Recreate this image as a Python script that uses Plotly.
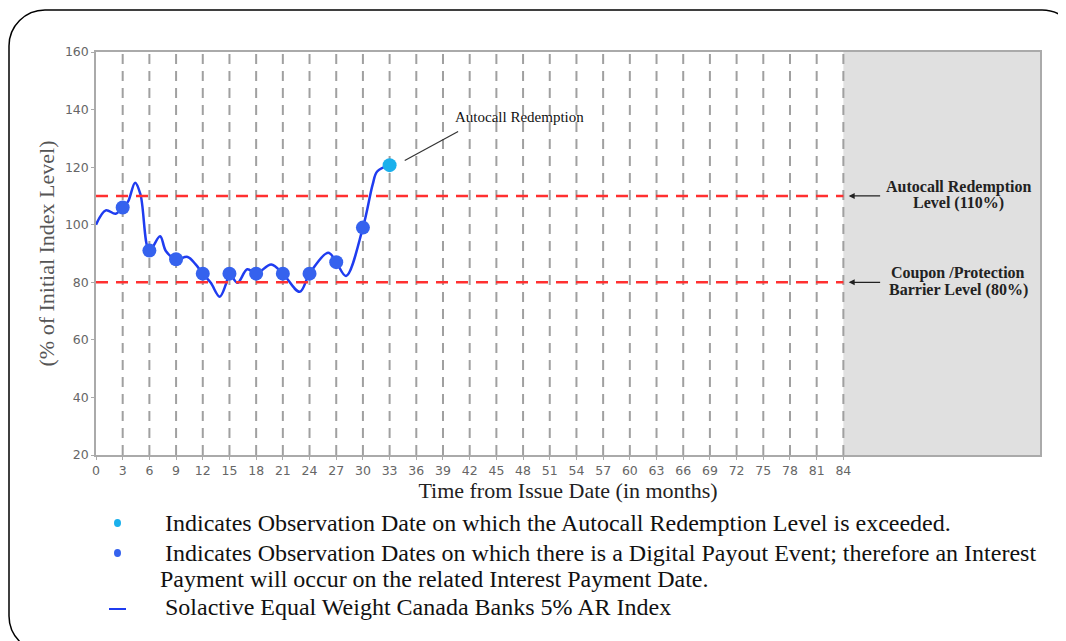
import plotly.graph_objects as go

# ---------------- data ----------------
index_months = [0, 1.1, 2.2, 3, 3.6, 4.4, 5.0, 6, 7.2, 7.85, 9, 10.3, 11.2, 12, 12.9, 13.9,
                14.6, 15, 15.9, 17, 18, 19.7, 21, 22.9, 24, 26.1, 27, 28.1, 30, 31.1, 31.6, 33]
index_level = [100, 105, 103.8, 106, 108, 114.6, 110.5, 91, 96, 90.9, 88, 88.8, 86.2, 83, 79.8, 75,
               79.3, 83, 79.8, 84.5, 83, 86.2, 83, 76.7, 83, 90.3, 87, 82.2, 99, 114, 118.5, 120.7]

payout_months = [3, 6, 9, 12, 15, 18, 21, 24, 27, 30]
payout_levels = [106, 91, 88, 83, 83, 83, 83, 83, 87, 99]

autocall_month = [33]
autocall_level = [120.7]

x_ticks = list(range(0, 85, 3))
y_ticks = [20, 40, 60, 80, 100, 120, 140, 160]
autocall_barrier = 110
coupon_barrier = 80
term_months = 84

legend_lines = [
    "Indicates Observation Date on which the Autocall Redemption Level is exceeded.",
    "Indicates Observation Dates on which there is a Digital Payout Event; therefore an Interest",
    "Payment will occur on the related Interest Payment Date.",
    "Solactive Equal Weight Canada Banks 5% AR Index",
]

# ---------------- layout geometry ----------------
# the page body has an 8px margin, so the figure is drawn at (8, 8) on screen
W, H = 1066, 641
L, T = 88, 44
PW, PH = 944, 403
R = W - L - PW
B = H - T - PH
XMAX = 106.1


def px(sx):  # screen x -> paper
    return (sx - 8 - L) / PW


def py(sy):  # screen y -> paper
    return (H - B - (sy - 8)) / PH


fig = go.Figure()

fig.add_trace(go.Scatter(
    x=index_months, y=index_level, mode="lines",
    line=dict(color="#1f3cf0", width=2.5, shape="spline", smoothing=1.0),
    hoverinfo="skip", showlegend=False))

fig.add_trace(go.Scatter(
    x=payout_months, y=payout_levels, mode="markers",
    marker=dict(color="#3562ee", size=14, line=dict(width=0)),
    showlegend=False))

fig.add_trace(go.Scatter(
    x=autocall_month, y=autocall_level, mode="markers",
    marker=dict(color="#1ab0ec", size=14, line=dict(width=0)),
    showlegend=False))

shapes = []
# grey "after term" region
shapes.append(dict(type="rect", xref="x", yref="paper", x0=term_months, x1=XMAX, y0=0, y1=1,
                   fillcolor="#e0e0e0", line=dict(width=0), layer="below"))
# vertical dashed observation lines
for m in x_ticks[1:]:
    shapes.append(dict(type="line", xref="x", yref="y", x0=m, x1=m, y0=20, y1=160,
                       line=dict(color="#a0a0a0", width=2, dash="10px,7px"), layer="below"))
# barrier lines
for lvl in (autocall_barrier, coupon_barrier):
    shapes.append(dict(type="line", xref="x", yref="y", x0=0, x1=term_months, y0=lvl, y1=lvl,
                       line=dict(color="#ff3030", width=2.5, dash="12px,8px"), layer="above"))

# rounded outer frame (screen coordinates)
k = 0.552
r = 36
x0, y0, x1, y1 = 9, 10, 1078, 652
pts = [
    ("M", [(x0, y1 - r)]),
    ("L", [(x0, y0 + r)]),
    ("C", [(x0, y0 + r - k * r), (x0 + r - k * r, y0), (x0 + r, y0)]),
    ("L", [(x1 - r, y0)]),
    ("C", [(x1 - r + k * r, y0), (x1, y0 + r - k * r), (x1, y0 + r)]),
    ("L", [(x1, y1 - r)]),
    ("C", [(x1, y1 - r + k * r), (x1 - r + k * r, y1), (x1 - r, y1)]),
    ("L", [(x0 + r, y1)]),
    ("C", [(x0 + r - k * r, y1), (x0, y1 - r + k * r), (x0, y1 - r)]),
]
path = ""
for cmd, ps in pts:
    path += cmd + " " + " ".join(f"{px(a):.5f},{py(b):.5f}" for a, b in ps) + " "
path += "Z"
shapes.append(dict(type="path", xref="paper", yref="paper", path=path,
                   line=dict(color="#000000", width=1.5), fillcolor="rgba(0,0,0,0)"))

annotations = []
# autocall callout
annotations.append(dict(x=47.6, y=137.3, xref="x", yref="y", text="Autocall Redemption",
                        showarrow=False, font=dict(family="Liberation Serif", size=15, color="#111")))
shapes.append(dict(type="line", xref="x", yref="y", x0=34.7, y0=122.3, x1=40.7, y1=132.4,
                   line=dict(color="#333", width=1.2)))

# right-hand barrier labels
lab_font = dict(family="Liberation Serif", size=16, color="#222")
for lvl, l1, l2, s1, s2 in ((autocall_barrier, "Autocall Redemption", "Level (110%)", 187, 203),
                            (coupon_barrier, "Coupon /Protection", "Barrier Level (80%)", 273, 290)):
    for txt, sy in ((l1, s1), (l2, s2)):
        annotations.append(dict(x=px(958), y=py(sy), xref="paper", yref="paper",
                                text="<b>" + txt + "</b>", showarrow=False,
                                xanchor="center", yanchor="middle", font=lab_font))
    annotations.append(dict(x=84.6, y=lvl, xref="x", yref="y", text="",
                            showarrow=True, arrowhead=2, arrowsize=1, arrowwidth=1.2,
                            arrowcolor="#222", ax=88.3, ay=lvl, axref="x", ayref="y"))

# bottom key
key_font = dict(family="Liberation Serif", size=24, color="#111")
for sx, sy, txt in ((163, 523, legend_lines[0]), (163, 553, legend_lines[1]),
                    (158, 579, legend_lines[2]), (163, 607, legend_lines[3])):
    annotations.append(dict(x=px(sx), y=py(sy), xref="paper", yref="paper", text=txt,
                            xanchor="left", yanchor="middle", showarrow=False, font=key_font))
# key symbols
for yc, col in ((523, "#1ab0ec"), (553, "#3562ee")):
    shapes.append(dict(type="circle", xref="paper", yref="paper",
                       x0=px(114), x1=px(121), y0=py(yc - 4), y1=py(yc + 4),
                       fillcolor=col, line=dict(width=0)))
shapes.append(dict(type="line", xref="paper", yref="paper", x0=px(109), x1=px(126),
                   y0=py(609), y1=py(609), line=dict(color="#1f3cf0", width=2)))

fig.update_layout(
    width=W, height=H,
    margin=dict(l=L, r=R, t=T, b=B),
    paper_bgcolor="white", plot_bgcolor="white",
    shapes=shapes, annotations=annotations,
    showlegend=False,
    xaxis=dict(range=[0, XMAX], tickvals=x_ticks, ticktext=[str(v) for v in x_ticks],
               showgrid=False, zeroline=False, showline=True, linecolor="#aaaaaa", linewidth=1.5,
               mirror=True, ticks="outside", ticklen=3, tickcolor="#aaaaaa",
               tickfont=dict(family="DejaVu Sans", size=12.5, color="#666"),
               title=dict(text="Time from Issue Date (in months)", standoff=6,
                          font=dict(family="Liberation Serif", size=22, color="#222"))),
    yaxis=dict(range=[20, 160], tickvals=y_ticks,
               showgrid=False, zeroline=False, showline=True, linecolor="#aaaaaa", linewidth=1.5,
               mirror=True, ticks="outside", ticklen=3, tickcolor="#aaaaaa",
               tickfont=dict(family="DejaVu Sans", size=12.5, color="#666"),
               title=dict(text="(% of Initial Index Level)", standoff=4,
                          font=dict(family="Liberation Serif", size=22, color="#555"))),
)

fig.write_html("out.html")
